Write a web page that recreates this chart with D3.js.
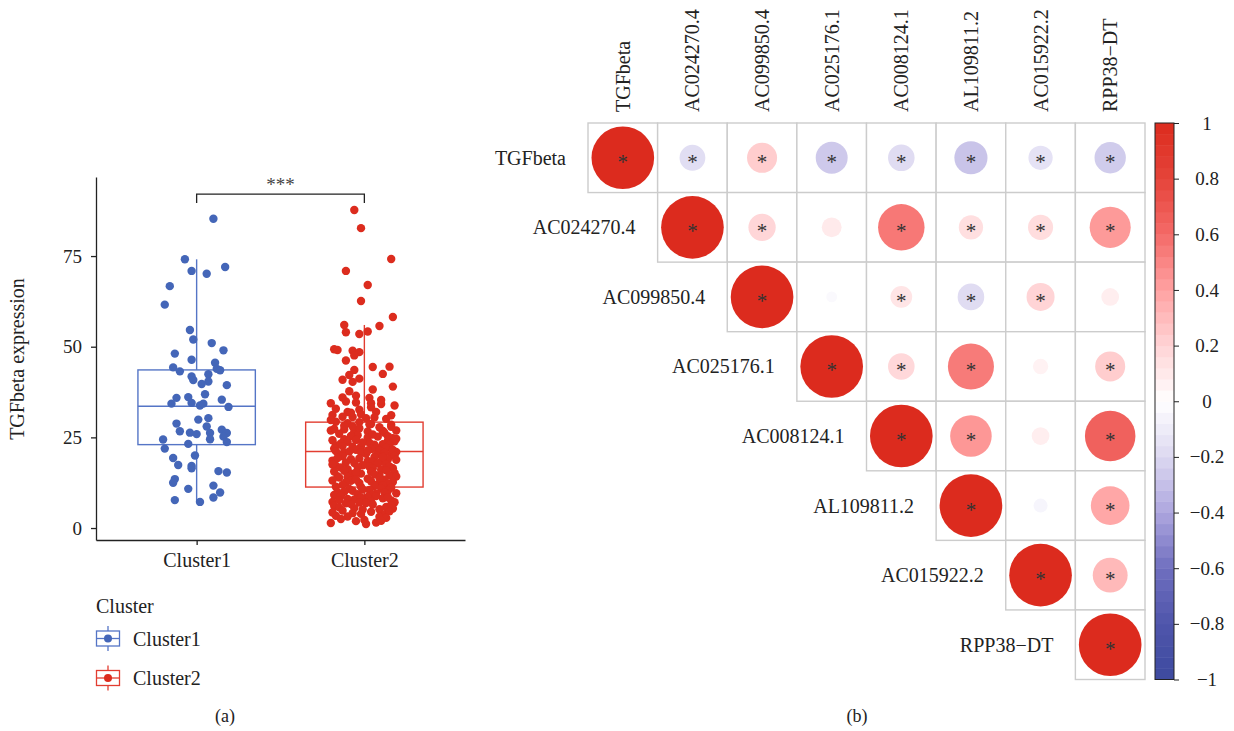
<!DOCTYPE html>
<html>
<head>
<meta charset="utf-8">
<script src="https://cdn.jsdelivr.net/npm/d3@7"></script>
<style>
  body { margin: 0; background: #fff; }
  text { font-family: "Liberation Serif", "Times New Roman", serif; }
</style>
</head>
<body>
<div id="chart"></div>
<script>
// ---------- panel (a) data ----------
var clusters = ["Cluster1", "Cluster2"];
var yTicks = [0, 25, 50, 75];

var cluster1Expr = [85.3, 74.1, 72.0, 70.9, 70.1, 66.7, 61.6, 54.6, 52.0, 51.0, 49.0, 48.1, 46.4, 45.6, 44.3, 43.2,
  43.9, 43.5, 42.4, 41.8, 40.8, 40.4, 39.7, 39.4, 36.9, 35.9, 36.1, 35.4, 34.3, 34.5, 33.8, 34.3, 33.4, 29.9, 30.3,
  28.8, 28.0, 26.7, 26.3, 25.9, 26.2, 27.1, 26.2, 24.5, 25.2, 24.4, 23.7, 23.2, 21.9, 20.0, 19.3, 17.4, 17.1, 16.5,
  15.7, 15.3, 13.5, 12.5, 11.7, 10.8, 9.8, 8.4, 7.7, 7.2];
// horizontal jitter, in category units
var cluster1Jitter = [0.10, -0.07, 0.17, -0.03, 0.06, -0.16, -0.19, -0.04, -0.02, 0.09, 0.16, -0.13, -0.03, 0.11,
  -0.14, -0.10, 0.12, 0.14, 0.07, -0.03, -0.02, 0.07, 0.03, 0.18, 0.05, -0.12, -0.05, 0.15, -0.15, -0.03, 0.02, 0.04,
  0.19, 0.01, 0.07, -0.12, 0.06, -0.10, -0.04, 0.00, 0.08, 0.15, 0.18, 0.08, 0.16, -0.20, 0.18, -0.05, -0.19, -0.01,
  -0.14, -0.11, -0.03, -0.03, 0.13, 0.18, -0.13, -0.14, 0.10, -0.05, 0.14, 0.10, -0.13, 0.02];

var cluster2Expr = [87.7, 82.7, 74.2, 70.9, 67.0, 62.6, 58.2, 56.0, 55.7, 54.0, 53.5, 54.2, 49.3, 49.1, 48.9, 48.5,
  47.6, 46.2, 44.4, 44.5, 42.5, 43.6, 42.2, 41.2, 40.9, 40.3, 39.0, 37.7, 36.5, 35.9, 34.4, 34.9, 34.6, 34.4, 34.2,
  32.9, 33.3, 32.6, 32.0, 32.0, 31.4, 31.2, 31.1, 30.7, 30.6, 30.3, 30.5, 29.3, 28.9, 29.2, 28.7, 28.5, 26.9, 27.2,
  26.6, 26.6, 26.7, 26.9,
  38.2, 36.0, 33.8, 31.8, 30.1, 35.3, 29.8,
  28.2, 27.8, 27.5, 27.9, 28.6, 27.3, 28.0, 26.8,
  26.0, 25.6, 25.2, 24.8, 26.3, 24.5, 25.0, 24.2, 25.8, 24.0, 25.4, 24.6, 25.3, 24.3,
  23.8, 23.5, 23.1, 22.8, 23.9, 22.5, 22.2, 23.3, 22.9, 22.4, 23.6, 22.1, 23.0, 22.6,
  21.9, 21.6, 21.3, 21.0, 20.8, 20.5, 20.2, 21.8, 21.1, 20.7, 20.3, 21.5, 20.9, 20.1, 21.4, 21.2,
  19.8, 19.5, 19.2, 18.9, 18.6, 18.3, 19.9, 19.0, 18.5, 18.1, 19.6, 18.8, 19.3, 18.2,
  17.9, 17.6, 17.2, 16.9, 16.5, 16.2, 17.8, 17.3, 16.7, 16.1, 17.5, 16.4, 17.0, 16.8,
  15.8, 15.5, 15.2, 14.9, 14.6, 14.3, 15.9, 15.0, 14.5, 14.1, 15.6, 14.8, 15.3, 14.2,
  13.9, 13.6, 13.3, 13.0, 12.7, 12.4, 12.1, 13.8, 13.1, 12.6, 12.2, 13.4, 12.9,
  11.9, 11.6, 11.3, 11.1, 11.8, 11.4,
  10.8, 10.5, 10.2, 9.9, 9.6, 9.3, 10.9, 10.0, 9.5, 9.1, 10.6, 9.8, 10.3, 9.2,
  8.9, 8.6, 8.2, 7.9, 7.6, 7.2, 8.8, 8.0, 7.4, 7.1, 8.4, 7.7, 8.5, 7.0,
  6.8, 6.5, 6.1, 5.8, 5.5, 5.2, 6.9, 6.2, 5.7, 5.1, 6.6, 5.4,
  4.8, 4.5, 4.1, 3.8, 3.4, 3.1, 4.6, 3.9, 4.3, 3.2,
  2.8, 2.5, 2.2, 1.9, 1.5, 1.4, 1.1, 2.0];
var cluster2Jitter = [-0.06, -0.02, 0.16, -0.11, 0.02, -0.02, 0.17, -0.12, 0.09, -0.11, -0.03, 0.02, -0.18, -0.16,
  -0.07, -0.03, -0.06, -0.11, 0.05, 0.15, 0.11, -0.06, -0.09, -0.03, -0.13, -0.07, 0.17, -0.09, -0.05, 0.03, -0.20,
  -0.11, -0.05, 0.04, 0.10, -0.17, 0.04, -0.03, -0.10, 0.07, -0.02, -0.19, 0.16, -0.13, -0.07, 0.01, 0.06, -0.17,
  -0.10, -0.03, 0.04, 0.16, -0.20, -0.12, -0.06, 0.02, 0.11, 0.19,
  0.05, -0.13, 0.18, -0.08, 0.13, 0.10, -0.20,
  -0.12, 0.09, -0.03, 0.16, 0.03, -0.18, -0.07, 0.11,
  -0.15, -0.04, 0.08, 0.17, 0.12, -0.12, 0.02, -0.19, 0.05, 0.14, -0.08, 0.19, 0.14, -0.05,
  -0.10, 0.03, 0.11, -0.17, 0.18, -0.02, 0.07, -0.14, 0.15, -0.07, -0.01, 0.13, 0.06, -0.13,
  -0.18, -0.05, 0.09, 0.19, -0.12, 0.01, 0.16, 0.04, -0.09, 0.12, -0.15, 0.17, -0.02, 0.07, 0.02, -0.17,
  -0.13, 0.06, -0.03, 0.14, -0.19, 0.10, 0.18, -0.08, 0.02, -0.11, 0.11, 0.19, -0.16, 0.05,
  -0.06, 0.13, -0.17, 0.03, 0.17, -0.10, 0.08, -0.01, -0.14, 0.10, -0.19, 0.05, 0.15, -0.04,
  -0.12, 0.04, 0.18, -0.07, 0.09, -0.16, 0.13, -0.02, 0.15, -0.10, -0.18, 0.06, -0.05, 0.19,
  -0.15, 0.02, 0.12, -0.08, 0.17, -0.03, 0.08, 0.09, -0.19, -0.11, 0.14, -0.05, 0.04,
  -0.13, 0.06, -0.02, 0.16, 0.11, -0.17,
  -0.09, 0.03, 0.14, -0.16, 0.19, -0.04, 0.10, -0.12, 0.07, -0.18, -0.01, 0.12, -0.07, 0.05,
  -0.14, 0.02, 0.11, -0.06, 0.16, -0.19, 0.07, -0.10, 0.04, 0.18, -0.02, -0.15, 0.14, -0.03,
  -0.11, 0.05, -0.18, 0.13, -0.06, 0.09, 0.01, 0.16, -0.15, -0.01, -0.08, 0.17,
  -0.13, 0.04, -0.07, 0.12, -0.17, 0.09, 0.15, -0.02, -0.19, -0.10,
  0.13, -0.14, 0.00, -0.05, 0.07, -0.20, 0.01, 0.10];

// box statistics: [lower whisker, q1, median, q3, upper whisker]
var boxStats1 = [7.2, 23.0, 33.6, 43.6, 74.1];
var boxStats2 = [1.1, 11.3, 21.1, 29.2, 56.0];
var sigLabel = "***";

// ---------- panel (b) data ----------
var genes = ["TGFbeta", "AC024270.4", "AC099850.4", "AC025176.1", "AC008124.1", "AL109811.2", "AC015922.2", "RPP38\u2212DT"];
// upper triangle, each row starts at the diagonal
var corrRows = [
  [1, -0.17, 0.23, -0.26, -0.18, -0.28, -0.15, -0.25],
  [1, 0.19, 0.10, 0.55, 0.15, 0.16, 0.43],
  [1, -0.03, 0.12, -0.18, 0.20, 0.08],
  [1, 0.18, 0.54, 0.06, 0.23],
  [1, 0.44, 0.08, 0.65],
  [1, -0.05, 0.38],
  [1, 0.31],
  [1]
];
// 1 = significant (*), 0 = not
var starRows = [
  [1, 1, 1, 1, 1, 1, 1, 1],
  [1, 1, 0, 1, 1, 1, 1],
  [1, 0, 1, 1, 1, 0],
  [1, 1, 1, 0, 1],
  [1, 1, 0, 1],
  [1, 0, 1],
  [1, 1],
  [1]
];
var barTicks = [-1, -0.8, -0.6, -0.4, -0.2, 0, 0.2, 0.4, 0.6, 0.8, 1];
var colorStops = [-1, -0.8, -0.6, -0.4, -0.2, 0, 0.2, 0.4, 0.6, 0.8, 1];
var colorRange = ["#3D4A9F", "#4F55AB", "#6F6EBF", "#ADA6DE", "#DCD8F1", "#FFFFFF",
  "#FFD4D6", "#FFA2A2", "#F46A68", "#E5443A", "#DC2B1E"];

var W = 1234, H = 731;
var svg = d3.select("#chart").append("svg")
  .attr("width", W).attr("height", H);

var FONT = "Liberation Serif, Times New Roman, serif";
var blue = "#4466B8", red = "#DC2C1E";
var blueLine = "#5575C6", redLine = "#E23D31";

// ================= panel (a) =================
var x = d3.scaleLinear().domain([0.4, 2.6]).range([96, 465]);
var y = d3.scaleLinear().domain([-3.3, 96.8]).range([540, 177]);

var yAxis = svg.append("g")
  .attr("transform", "translate(96,0)")
  .call(d3.axisLeft(y).tickValues(yTicks).tickSize(5).tickSizeOuter(0).tickPadding(9));
var xAxis = svg.append("g")
  .attr("transform", "translate(0,540)")
  .call(d3.axisBottom(x).tickValues([1, 2]).tickSize(5).tickSizeOuter(0).tickPadding(8)
    .tickFormat(function (d) { return clusters[d - 1]; }));
[yAxis, xAxis].forEach(function (g) {
  g.attr("font-family", FONT).attr("font-size", 20);
  g.selectAll("text").attr("fill", "#222");
  g.selectAll("path,line").attr("stroke", "#222").attr("stroke-width", 1.3);
});
yAxis.selectAll("text").attr("font-size", 19);

svg.append("text")
  .attr("transform", "translate(24," + y(46.6) + ")rotate(-90)")
  .attr("text-anchor", "middle")
  .attr("font-size", 20).attr("fill", "#222")
  .text("TGFbeta expression");

// boxes
var boxes = [
  { i: 1, s: boxStats1, line: blueLine },
  { i: 2, s: boxStats2, line: redLine }
];
boxes.forEach(function (b) {
  var cx = x(b.i), x0 = x(b.i - 0.35), x1 = x(b.i + 0.35);
  var g = svg.append("g").attr("stroke", b.line).attr("stroke-width", 1.4).attr("fill", "none");
  g.append("line").attr("x1", cx).attr("x2", cx).attr("y1", y(b.s[3])).attr("y2", y(b.s[4]));
  g.append("line").attr("x1", cx).attr("x2", cx).attr("y1", y(b.s[1])).attr("y2", y(b.s[0]));
  g.append("rect").attr("x", x0).attr("y", y(b.s[3]))
    .attr("width", x1 - x0).attr("height", y(b.s[1]) - y(b.s[3]));
  g.append("line").attr("x1", x0).attr("x2", x1).attr("y1", y(b.s[2])).attr("y2", y(b.s[2]));
});

// jittered points
function pts(vals, jit, idx) {
  return vals.map(function (v, k) { return { v: v, j: jit[k], i: idx }; });
}
var allPts = pts(cluster1Expr, cluster1Jitter, 1).concat(pts(cluster2Expr, cluster2Jitter, 2));
svg.append("g").selectAll("circle")
  .data(allPts)
  .enter().append("circle")
  .attr("cx", function (d) { return x(d.i + d.j); })
  .attr("cy", function (d) { return y(d.v); })
  .attr("r", 4.2)
  .attr("fill", function (d) { return d.i === 1 ? blue : red; });

// significance bracket
var by = y(92.1), bdrop = y(89.6);
svg.append("path")
  .attr("d", "M" + x(1) + "," + bdrop + "V" + by + "H" + x(2) + "V" + bdrop)
  .attr("fill", "none").attr("stroke", "#222").attr("stroke-width", 1.3);
svg.append("text")
  .attr("x", (x(1) + x(2)) / 2).attr("y", by - 3)
  .attr("text-anchor", "middle").attr("font-size", 19).attr("fill", "#444")
  .text(sigLabel);

// legend
svg.append("text").attr("x", 96).attr("y", 613).attr("font-size", 20).attr("fill", "#222").text("Cluster");
clusters.forEach(function (c, k) {
  var cy = 638.5 + k * 39.5, col = k === 0 ? blue : red, lc = k === 0 ? blueLine : redLine;
  var g = svg.append("g");
  g.append("line").attr("x1", 108).attr("x2", 108).attr("y1", cy - 12.5).attr("y2", cy + 12.5)
    .attr("stroke", lc).attr("stroke-width", 1.3);
  g.append("rect").attr("x", 96.5).attr("y", cy - 7.5).attr("width", 23).attr("height", 15)
    .attr("fill", "#fff").attr("stroke", lc).attr("stroke-width", 1.3);
  g.append("line").attr("x1", 96.5).attr("x2", 119.5).attr("y1", cy).attr("y2", cy)
    .attr("stroke", lc).attr("stroke-width", 1.3);
  g.append("circle").attr("cx", 108).attr("cy", cy).attr("r", 4).attr("fill", col);
  g.append("text").attr("x", 133).attr("y", cy).attr("dy", "0.35em")
    .attr("font-size", 20).attr("fill", "#222").text(c);
});

svg.append("text").attr("x", 225).attr("y", 722).attr("text-anchor", "middle")
  .attr("font-size", 18).attr("fill", "#222").text("(a)");

// ================= panel (b) =================
var gx = d3.scaleBand().domain(genes).range([588, 1145]);
var gy = d3.scaleBand().domain(genes).range([123, 679.5]);
var cell = gx.bandwidth();
var color = d3.scaleLinear().domain(colorStops).range(colorRange).interpolate(d3.interpolateRgb);

var cells = [];
corrRows.forEach(function (row, r) {
  row.forEach(function (v, k) {
    cells.push({ r: genes[r], c: genes[r + k], v: v, star: starRows[r][k] });
  });
});

var cg = svg.append("g");
cg.selectAll("rect.cell")
  .data(cells).enter().append("rect")
  .attr("class", "cell")
  .attr("x", function (d) { return gx(d.c); })
  .attr("y", function (d) { return gy(d.r); })
  .attr("width", cell).attr("height", gy.bandwidth())
  .attr("fill", "#fff").attr("stroke", "#CCCCCC").attr("stroke-width", 1.4);

cg.selectAll("circle")
  .data(cells).enter().append("circle")
  .attr("cx", function (d) { return gx(d.c) + cell / 2; })
  .attr("cy", function (d) { return gy(d.r) + gy.bandwidth() / 2; })
  .attr("r", function (d) { return 0.45 * cell * Math.sqrt(Math.abs(d.v)); })
  .attr("fill", function (d) { return color(d.v); });

cg.selectAll("text.star")
  .data(cells.filter(function (d) { return d.star; })).enter().append("text")
  .attr("class", "star")
  .attr("x", function (d) { return gx(d.c) + cell / 2; })
  .attr("y", function (d) { return gy(d.r) + gy.bandwidth() / 2 + 11; })
  .attr("text-anchor", "middle").attr("font-size", 21).attr("fill", "#333")
  .text("*");

// row labels
svg.append("g").selectAll("text")
  .data(genes).enter().append("text")
  .attr("x", function (d) { return gx(d) - 22; })
  .attr("y", function (d) { return gy(d) + gy.bandwidth() / 2; })
  .attr("dy", "0.35em").attr("text-anchor", "end")
  .attr("font-size", 20).attr("fill", "#222")
  .text(function (d) { return d; });

// column labels
svg.append("g").selectAll("text")
  .data(genes).enter().append("text")
  .attr("transform", function (d) { return "translate(" + (gx(d) + cell / 2) + ",112)rotate(-90)"; })
  .attr("dy", "0.35em").attr("text-anchor", "start")
  .attr("font-size", 20).attr("fill", "#222")
  .text(function (d) { return d; });

// colour bar
var bar = d3.scaleLinear().domain([-1, 1]).range([679.5, 123]);
var nBands = 50, bandVals = d3.range(nBands).map(function (k) { return -1 + (k + 0.5) * 2 / nBands; });
var bg = svg.append("g");
bg.selectAll("rect")
  .data(bandVals).enter().append("rect")
  .attr("x", 1155).attr("width", 19)
  .attr("y", function (d) { return bar(d + 1 / nBands); })
  .attr("height", function (d) { return bar(d - 1 / nBands) - bar(d + 1 / nBands) + 0.5; })
  .attr("fill", function (d) { return color(d); });
bg.append("rect").attr("x", 1155).attr("y", bar(1)).attr("width", 19).attr("height", bar(-1) - bar(1))
  .attr("fill", "none").attr("stroke", "#222").attr("stroke-width", 1);
var barAxis = svg.append("g")
  .attr("transform", "translate(1174,0)")
  .call(d3.axisRight(bar).tickValues(barTicks).tickSize(5).tickSizeOuter(0).tickPadding(14)
    .tickFormat(function (d) { return d === 0 ? "0" : d3.format("")(d).replace("-", "\u2212"); }));
barAxis.select(".domain").remove();
barAxis.attr("font-family", FONT).attr("font-size", 19);
barAxis.selectAll("line").attr("stroke", "#222");
barAxis.selectAll("text").attr("fill", "#222").attr("text-anchor", "middle").attr("x", 33);

svg.append("text").attr("x", 857).attr("y", 722).attr("text-anchor", "middle")
  .attr("font-size", 18).attr("fill", "#222").text("(b)");
</script>
</body>
</html>
